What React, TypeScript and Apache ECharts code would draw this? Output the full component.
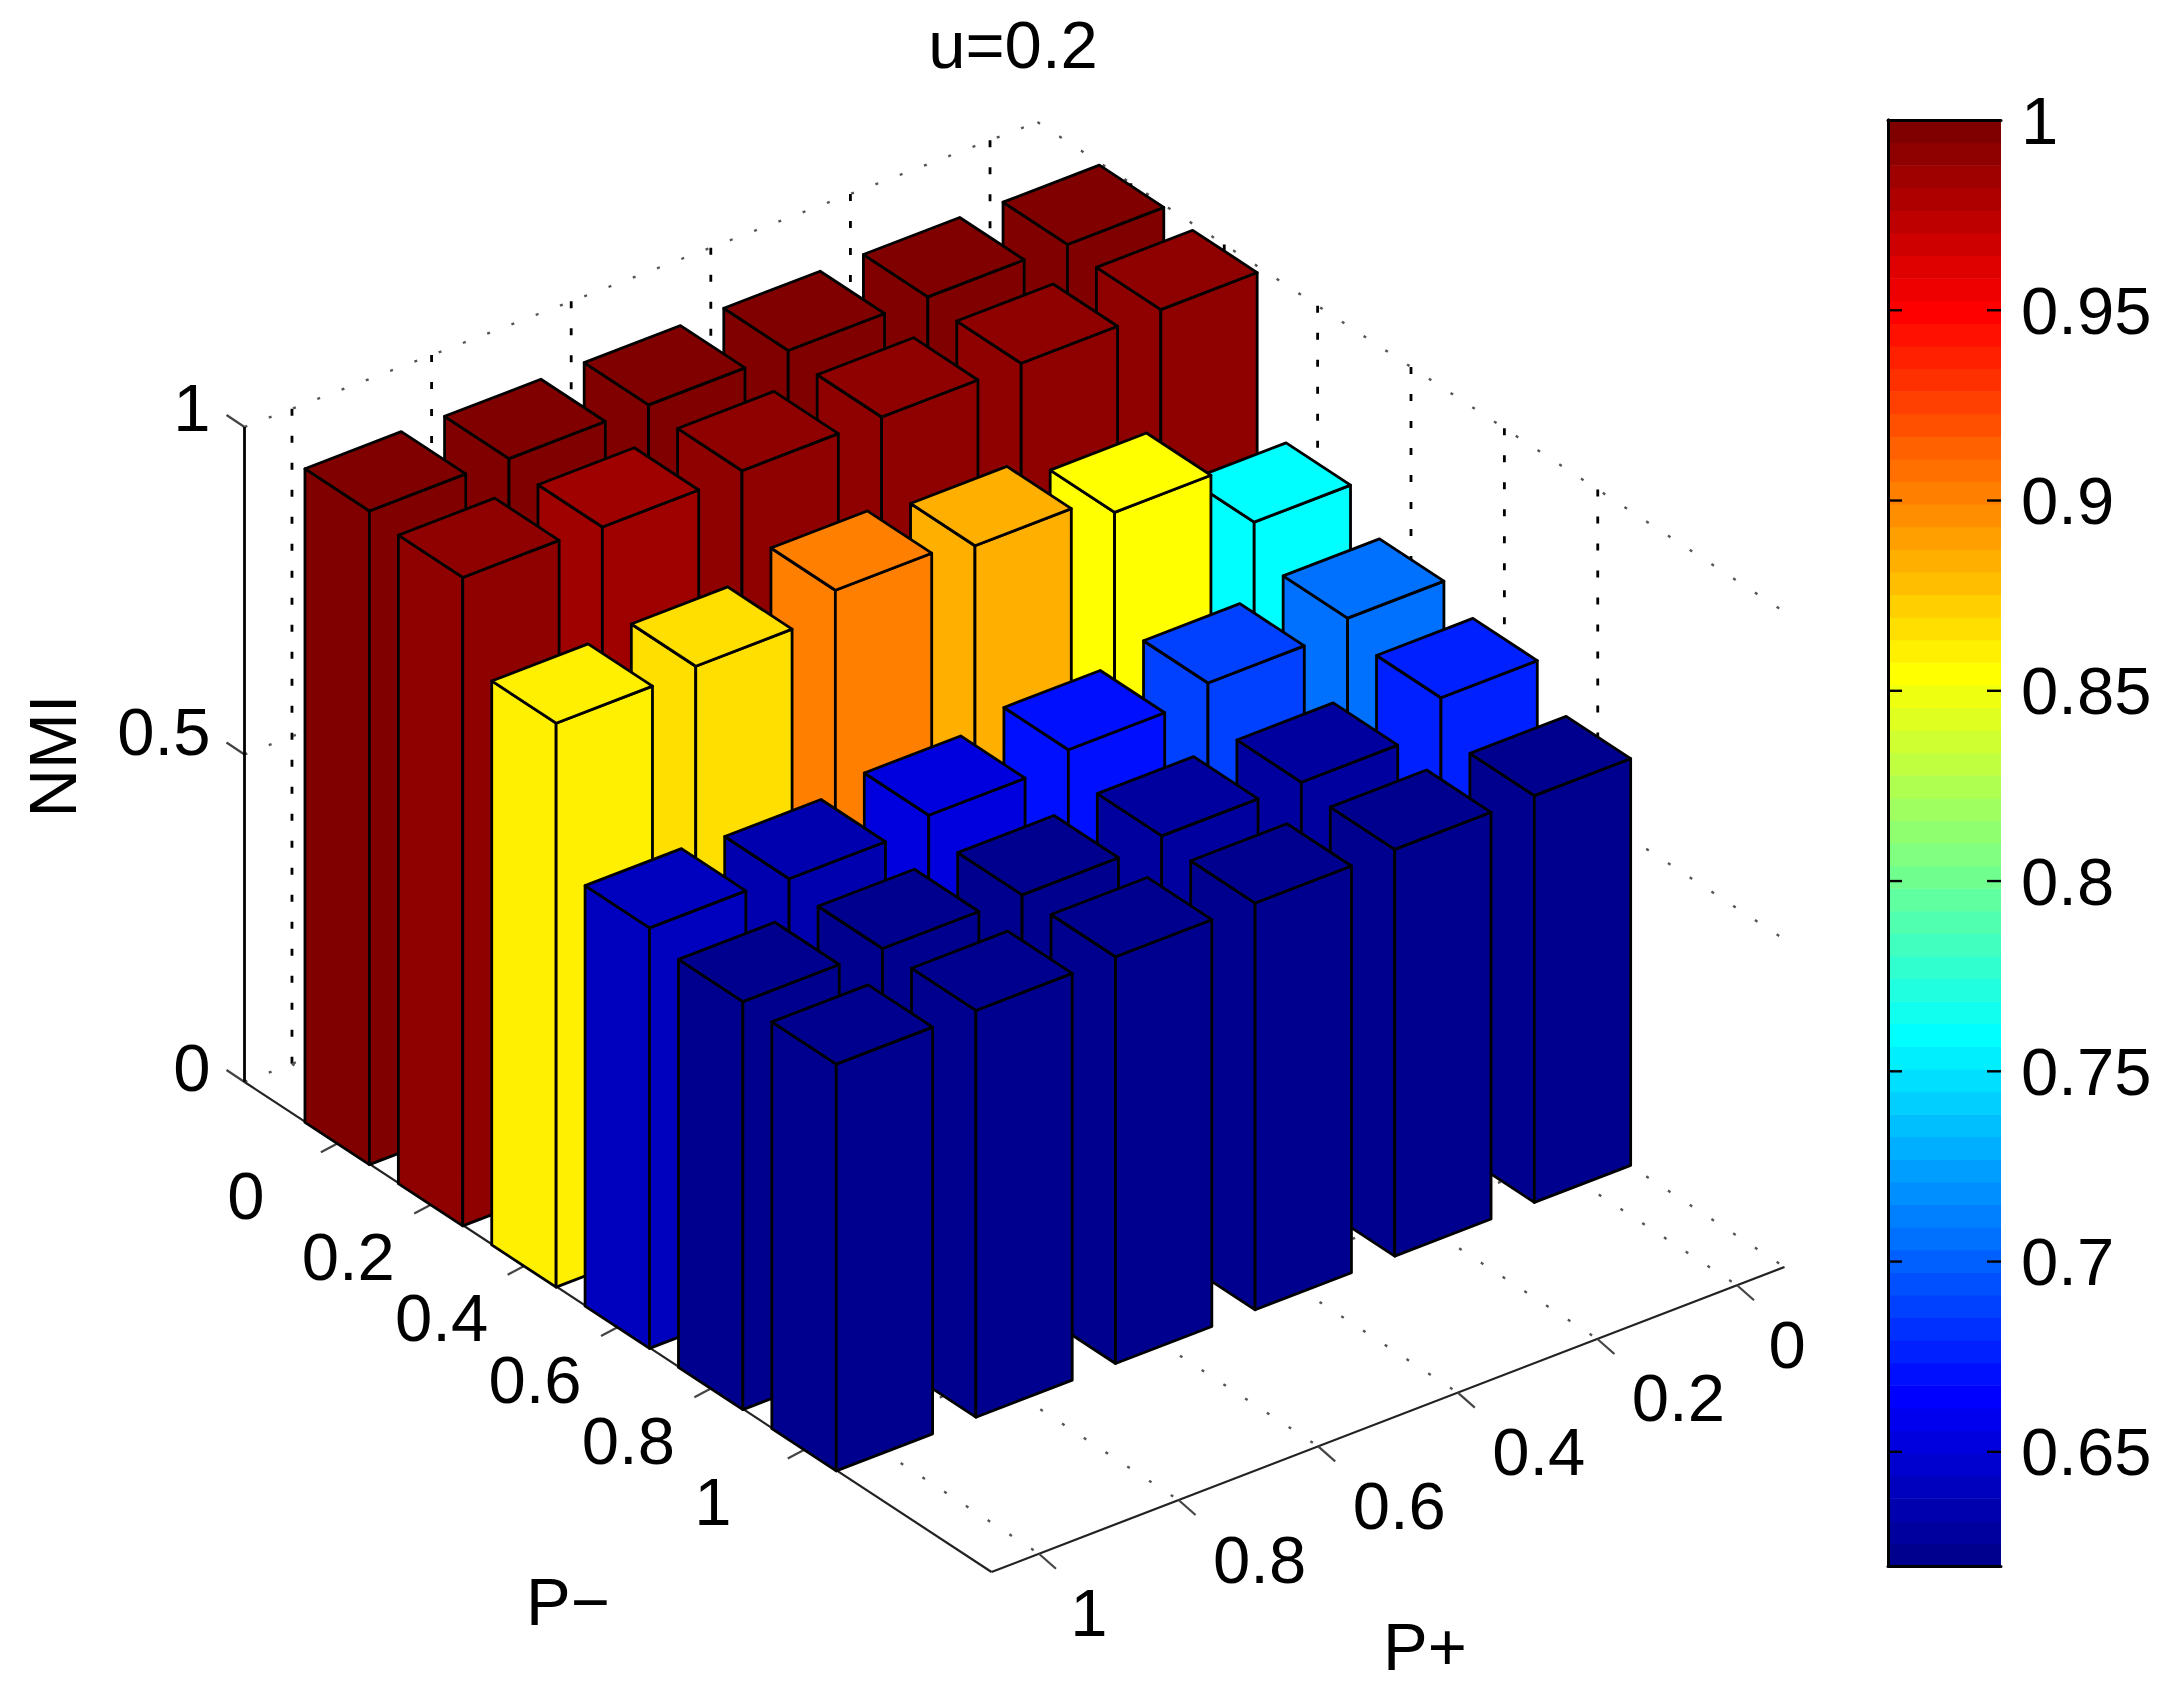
import React, { useEffect, useRef } from "react";
import * as echarts from "echarts";

const pMinusTicks = [0, 0.2, 0.4, 0.6, 0.8, 1];
const pPlusTicks = [0, 0.2, 0.4, 0.6, 0.8, 1];
const nmiTicks = [0, 0.5, 1];
const colorbarTicks = [0.65, 0.7, 0.75, 0.8, 0.85, 0.9, 0.95, 1];

// NMI per P+ (0, 0.2, 0.4, 0.6, 0.8, 1) for each P-
const nmiPMinus00 = [0.995, 0.997, 0.997, 0.996, 0.996, 0.998];
const nmiPMinus02 = [0.989, 0.989, 0.989, 0.989, 0.985, 0.99];
const nmiPMinus04 = [0.758, 0.855, 0.886, 0.9, 0.866, 0.861];
const nmiPMinus06 = [0.705, 0.688, 0.668, 0.65, 0.635, 0.642];
const nmiPMinus08 = [0.677, 0.63, 0.63, 0.622, 0.622, 0.623];
const nmiPMinus10 = [0.621, 0.621, 0.621, 0.621, 0.621, 0.621];
const nmiRows = [nmiPMinus00, nmiPMinus02, nmiPMinus04, nmiPMinus06, nmiPMinus08, nmiPMinus10];

const jet = [
  "#00008f", "#00009f", "#0000af", "#0000bf", "#0000cf", "#0000df", "#0000ef", "#0000ff",
  "#0010ff", "#0020ff", "#0030ff", "#0040ff", "#0050ff", "#0060ff", "#0070ff", "#0080ff",
  "#008fff", "#009fff", "#00afff", "#00bfff", "#00cfff", "#00dfff", "#00efff", "#00ffff",
  "#10ffef", "#20ffdf", "#30ffcf", "#40ffbf", "#50ffaf", "#60ff9f", "#70ff8f", "#80ff80",
  "#8fff70", "#9fff60", "#afff50", "#bfff40", "#cfff30", "#dfff20", "#efff10", "#ffff00",
  "#ffef00", "#ffdf00", "#ffcf00", "#ffbf00", "#ffaf00", "#ff9f00", "#ff8f00", "#ff8000",
  "#ff7000", "#ff6000", "#ff5000", "#ff4000", "#ff3000", "#ff2000", "#ff1000", "#ff0000",
  "#ef0000", "#df0000", "#cf0000", "#bf0000", "#af0000", "#9f0000", "#8f0000", "#800000",
];
const cMin = 0.62;
const cMax = 1;
const colorOf = (v: number) => {
  const i = Math.floor(((v - cMin) / (cMax - cMin)) * jet.length);
  return jet[Math.max(0, Math.min(jet.length - 1, i))];
};

const FONT = "Liberation Sans";
const FS = 67;
const pmLo = -0.2, pmHi = 1.4, ppLo = -0.068, ppHi = 1.068;
const barHalf = 0.069;

export default function App() {
  const ref = useRef<HTMLDivElement>(null);
  useEffect(() => {
    const chart = echarts.init(ref.current!, undefined, { renderer: "svg" });
    const ax = (finder: any, v: number) => chart.convertToPixel(finder, v) as unknown as number;
    // oblique projection composed from hidden linear axes
    const proj = (pm: number, pp: number, z: number) => [
      ax({ xAxisIndex: 0 }, pm) + ax({ xAxisIndex: 1 }, pp),
      ax({ yAxisIndex: 0 }, z) + ax({ yAxisIndex: 2 }, pm) - ax({ yAxisIndex: 1 }, pp),
    ];

    const barItems: number[][] = [];
    nmiRows.forEach((row, r) =>
      row.forEach((v, c) => barItems.push([pMinusTicks[r], pPlusTicks[c], v]))
    );

    const renderBar = (_p: any, api: any) => {
      const pm = api.value(0), pp = api.value(1), v = api.value(2);
      const a = pm - barHalf, b = pm + barHalf, l = pp - barHalf, h = pp + barHalf;
      const style = { fill: colorOf(v), stroke: "#000", lineWidth: 2.8, lineJoin: "round" };
      const poly = (pts: number[][]) => ({ type: "polygon", shape: { points: pts }, style });
      return {
        type: "group",
        children: [
          poly([proj(a, h, 0), proj(b, h, 0), proj(b, h, v), proj(a, h, v)]),
          poly([proj(b, h, 0), proj(b, l, 0), proj(b, l, v), proj(b, h, v)]),
          poly([proj(a, h, v), proj(b, h, v), proj(b, l, v), proj(a, l, v)]),
        ],
      };
    };

    const segLine = (p: number[], q: number[], stroke: string, lineWidth: number, lineDash?: number[]) => ({
      type: "line",
      shape: { x1: p[0], y1: p[1], x2: q[0], y2: q[1] },
      style: { stroke, lineWidth, lineDash, fill: null },
    });
    const renderFrame = () => {
      const children: any[] = [];
      const grey = "#555";
      const dots = [3, 23];
      const dash = [7, 20];
      pPlusTicks.forEach((t) => {
        children.push(segLine(proj(pmLo, t, 0), proj(pmLo, t, 1), "#000", 2.8, dash));
        children.push(segLine(proj(pmLo, t, 0), proj(pmHi, t, 0), grey, 2.4, dots));
      });
      pMinusTicks.forEach((t) => {
        children.push(segLine(proj(t, ppLo, 0), proj(t, ppLo, 1), "#000", 2.8, dash));
        children.push(segLine(proj(t, ppLo, 0), proj(t, ppHi, 0), grey, 2.4, dots));
      });
      nmiTicks.forEach((z) => {
        children.push(segLine(proj(pmLo, ppHi, z), proj(pmLo, ppLo, z), grey, 2.4, dots));
        children.push(segLine(proj(pmLo, ppLo, z), proj(pmHi, ppLo, z), grey, 2.4, dots));
        const s = proj(pmLo, ppHi, z);
        children.push(segLine(s, [s[0] - 18, s[1] - 12], "#444", 2.2));
      });
      children.push(segLine(proj(pmLo, ppHi, 0), proj(pmLo, ppHi, 1), "#000", 2.8));
      children.push(segLine(proj(pmLo, ppHi, 0), proj(pmHi, ppHi, 0), "#222", 2.2));
      children.push(segLine(proj(pmHi, ppHi, 0), proj(pmHi, ppLo, 0), "#222", 2.2));
      pMinusTicks.forEach((t) => {
        const s = proj(t, ppHi, 0);
        children.push(segLine(s, [s[0] - 17, s[1] + 9], "#444", 2.2));
      });
      pPlusTicks.forEach((t) => {
        const s = proj(pmHi, t, 0);
        children.push(segLine(s, [s[0] + 17, s[1] + 15], "#444", 2.2));
      });
      return { type: "group", children };
    };

    const txt = (text: string, x: number, y: number, align = "center", rotation = 0) => ({
      type: "text",
      x,
      y,
      rotation,
      style: { text, fontFamily: FONT, fontSize: FS, fill: "#000", align, verticalAlign: "middle" },
    });
    const renderTexts = () => {
      const children: any[] = [];
      nmiTicks.forEach((z) => {
        const s = proj(pmLo, ppHi, z);
        const dy = z === 0 ? -15 : z === 1 ? -20 : -23;
        children.push(txt(String(z), s[0] - 34, s[1] + dy, "right"));
      });
      pMinusTicks.forEach((t) => {
        const s = proj(t, ppHi, 0);
        const label = String(t);
        children.push(txt(label, s[0] + (label.length === 1 ? -92 : -83), s[1] + 52));
      });
      pPlusTicks.forEach((t) => {
        const s = proj(pmHi, t, 0);
        const label = String(t);
        children.push(txt(label, s[0] + (label.length === 1 ? 50 : 81), s[1] + 59));
      });
      children.push(txt("NMI", 52, 756, "center", Math.PI / 2));
      children.push(txt("P\u2212", 568, 1601));
      children.push(txt("P+", 1425, 1646));
      return { type: "group", children };
    };

    const hidden = (o: any) => ({ show: false, type: "value", scale: true, ...o });
    const cbLine = { show: true, lineStyle: { color: "#000", width: 3 } };
    const noTick = { show: false };

    chart.setOption({
      animation: false,
      backgroundColor: "#fff",
      title: {
        text: "u=0.2",
        left: 1008,
        top: 6,
        textAlign: "center",
        textStyle: { fontFamily: FONT, fontSize: FS, fontWeight: "normal", color: "#000" },
      },
      grid: [
        { left: 244.5, width: 747, top: 427, height: 655 },
        { left: 0, width: 793, top: 0, height: 305 },
        { left: 0, width: 100, top: 0, height: 490 },
        { left: 1888, width: 113, top: 120, height: 1446 },
      ],
      xAxis: [
        hidden({ gridIndex: 0, min: pmLo, max: pmHi }),
        hidden({ gridIndex: 1, min: ppLo, max: ppHi, inverse: true }),
        hidden({ gridIndex: 2, min: 0, max: 1 }),
        { gridIndex: 3, type: "value", min: 0, max: 1, position: "bottom", z: 5, axisLine: cbLine, axisTick: noTick, axisLabel: { show: false }, splitLine: { show: false } },
        { gridIndex: 3, type: "value", min: 0, max: 1, position: "top", z: 5, axisLine: cbLine, axisTick: noTick, axisLabel: { show: false }, splitLine: { show: false } },
      ],
      yAxis: [
        hidden({ gridIndex: 0, min: 0, max: 1 }),
        hidden({ gridIndex: 1, min: ppLo, max: ppHi }),
        hidden({ gridIndex: 2, min: pmLo, max: pmHi, inverse: true }),
        {
          gridIndex: 3, type: "value", min: cMin, max: cMax, position: "left", z: 5,
          axisLine: cbLine, axisTick: noTick, axisLabel: { show: false }, splitLine: { show: false },
        },
        {
          gridIndex: 3, type: "value", min: cMin, max: cMax, position: "right", z: 5,
          axisLine: cbLine, axisTick: noTick, splitLine: { show: false },
          axisLabel: {
            show: true, inside: false, margin: 20, fontFamily: FONT, fontSize: FS, color: "#000",
            hideOverlap: false, showMinLabel: true, showMaxLabel: true,
            customValues: colorbarTicks,
            formatter: (v: number) => String(+v.toFixed(2)),
          },
        },
      ],
      series: [
        {
          type: "custom", coordinateSystem: "cartesian2d", xAxisIndex: 0, yAxisIndex: 0, z: 1,
          silent: true, data: [[0, 0]], renderItem: renderFrame,
        },
        {
          type: "custom", coordinateSystem: "cartesian2d", xAxisIndex: 0, yAxisIndex: 0, z: 2,
          silent: true, encode: { x: 0, y: 2 }, data: barItems, renderItem: renderBar,
        },
        {
          type: "custom", coordinateSystem: "cartesian2d", xAxisIndex: 0, yAxisIndex: 0, z: 3,
          silent: true, data: [[0, 0]], renderItem: renderTexts,
        },
        {
          type: "custom", coordinateSystem: "cartesian2d", xAxisIndex: 3, yAxisIndex: 3, z: 1,
          silent: true, encode: { y: 0 },
          data: jet.map((_, i) => [i]),
          renderItem: (_p: any, api: any) => {
            const i = api.value(0);
            const step = (cMax - cMin) / jet.length;
            const p0 = api.coord([0, cMin + i * step]);
            const p1 = api.coord([1, cMin + (i + 1) * step]);
            return {
              type: "rect",
              shape: { x: p0[0], y: p1[1], width: p1[0] - p0[0], height: p0[1] - p1[1] + 0.6 },
              style: { fill: jet[i] },
            };
          },
        },
        {
          type: "custom", coordinateSystem: "cartesian2d", xAxisIndex: 3, yAxisIndex: 3, z: 3,
          silent: true, encode: { y: 0 },
          data: colorbarTicks.slice(0, -1).map((v) => [v]),
          renderItem: (_p: any, api: any) => {
            const l = api.coord([0, api.value(0)]);
            const r = api.coord([1, api.value(0)]);
            return {
              type: "group",
              children: [
                segLine(l, [l[0] + 14, l[1]], "#000", 2.4),
                segLine(r, [r[0] - 14, r[1]], "#000", 2.4),
              ],
            };
          },
        },
      ],
    });
    return () => chart.dispose();
  }, []);
  return (
    <div
      ref={ref}
      style={{ position: "fixed", left: 0, top: 0, width: 2162, height: 1693, background: "#fff" }}
    />
  );
}
